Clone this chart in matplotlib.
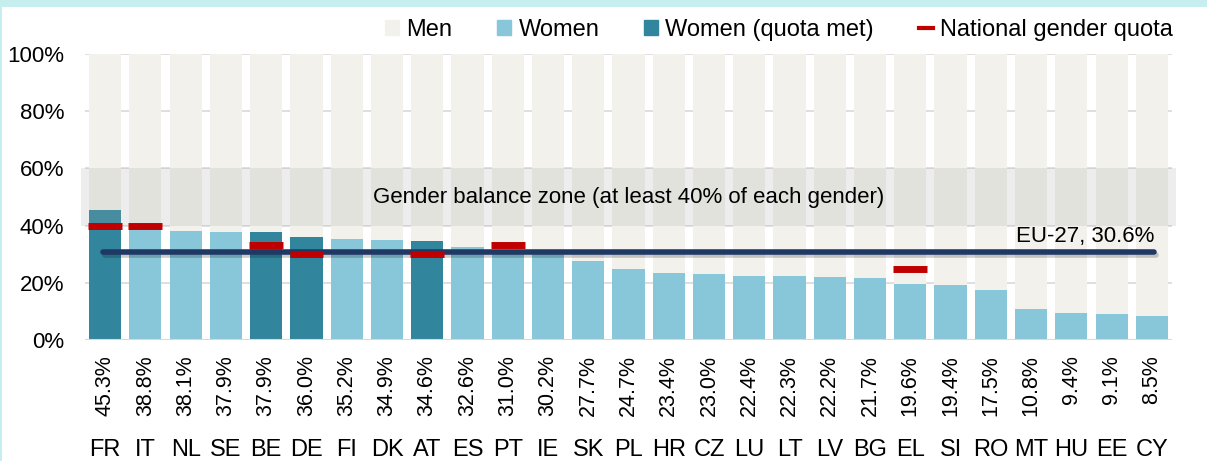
import numpy as np
import matplotlib.pyplot as plt
import matplotlib.patheffects as pe
from matplotlib.patches import Rectangle
from matplotlib.lines import Line2D

plt.rcParams['font.family'] = ['Liberation Sans', 'DejaVu Sans']

countries = ['FR', 'IT', 'NL', 'SE', 'BE', 'DE', 'FI', 'DK', 'AT', 'ES', 'PT', 'IE', 'SK',
             'PL', 'HR', 'CZ', 'LU', 'LT', 'LV', 'BG', 'EL', 'SI', 'RO', 'MT', 'HU', 'EE', 'CY']
women = [45.3, 38.8, 38.1, 37.9, 37.9, 36.0, 35.2, 34.9, 34.6, 32.6, 31.0, 30.2, 27.7,
         24.7, 23.4, 23.0, 22.4, 22.3, 22.2, 21.7, 19.6, 19.4, 17.5, 10.8, 9.4, 9.1, 8.5]
quota_met = ['FR', 'BE', 'DE', 'AT']
quota_countries = ['FR', 'IT', 'BE', 'DE', 'AT', 'PT', 'EL']
quota_values = [40, 40, 33.3, 30, 30, 33.3, 25]
eu_avg = 30.6

c_men = '#f2f1eb'
c_women = '#88c6da'
c_met = '#31869e'
c_quota = '#c00000'
c_eu = '#1f3864'

fig = plt.figure(figsize=(12.07, 4.61), dpi=100)
fig.patch.set_facecolor('#c6eeee')
fig.patches.append(Rectangle((2 / 1207, 0), 1, 454 / 461, transform=fig.transFigure,
                             facecolor='white', edgecolor='none', zorder=-10))

ax = fig.add_axes([85 / 1207, 121 / 461, 1087 / 1207, 286 / 461])
ax.set_facecolor('none')
x = np.arange(len(countries))
women = np.array(women)
colors = [c_met if c in quota_met else c_women for c in countries]

ax.bar(x, 100 - women, bottom=women, width=0.8, color=c_men, zorder=1)
ax.bar(x, women, width=0.8, color=colors, zorder=1)

ax.set_xlim(-0.5, len(countries) - 0.5)
ax.set_ylim(0, 100)
ax.set_yticks(np.arange(0, 101, 20))
ax.set_yticklabels([f'{v}%' for v in range(0, 101, 20)], fontsize=16)
ax.yaxis.grid(True, color='#d9d9d9', linewidth=1.2, zorder=0)
ax.set_axisbelow(True)
for s in ax.spines.values():
    s.set_visible(False)
ax.tick_params(axis='y', length=0, pad=15)
ax.tick_params(axis='x', length=0, pad=71)
ax.set_xticks(x)
ax.set_xticklabels(countries, fontsize=17)
ax.axhline(0, color='#d9d9d9', linewidth=1.5, zorder=2)

# gender balance zone
ax.add_patch(Rectangle((-0.6, 40), len(countries) + 0.2, 20, facecolor='#a6a6a6',
                       alpha=0.2, edgecolor='none', zorder=3, clip_on=False))
ax.text(13, 50, 'Gender balance zone (at least 40% of each gender)', ha='center',
        va='center', fontsize=16, zorder=6)

# EU average line
ax.plot([-0.05, 26.05], [eu_avg, eu_avg], color=c_eu, linewidth=4, solid_capstyle='round',
        zorder=4, path_effects=[pe.SimpleLineShadow(offset=(1.5, -2), alpha=0.2), pe.Normal()])
ax.text(26.05, eu_avg + 2, 'EU-27, 30.6%', ha='right', va='bottom', fontsize=16, zorder=6)

# national quotas
for c, q in zip(quota_countries, quota_values):
    i = countries.index(c)
    ax.plot([i - 0.42, i + 0.42], [q, q], color=c_quota, linewidth=5, solid_capstyle='butt', zorder=5)

# value labels
for i, v in enumerate(women):
    ax.annotate(f'{v:.1f}%', (i, 0), xytext=(0, -11), textcoords='offset points',
                rotation=90, ha='center', va='top', fontsize=15.5)

handles = [Rectangle((0, 0), 1, 1, color=c_men), Rectangle((0, 0), 1, 1, color=c_women),
           Rectangle((0, 0), 1, 1, color=c_met), Line2D([], [], color=c_quota, linewidth=3)]
fig.legend(handles, ['Men', 'Women', 'Women (quota met)', 'National gender quota'],
           loc='center right', bbox_to_anchor=(1173 / 1207, 1 - 30 / 461), ncol=4, frameon=False,
           fontsize=17, handlelength=0.6, handleheight=0.6, handletextpad=0.3, columnspacing=1.9,
           borderpad=0, borderaxespad=0)

fig.savefig('out.png', dpi=100)
